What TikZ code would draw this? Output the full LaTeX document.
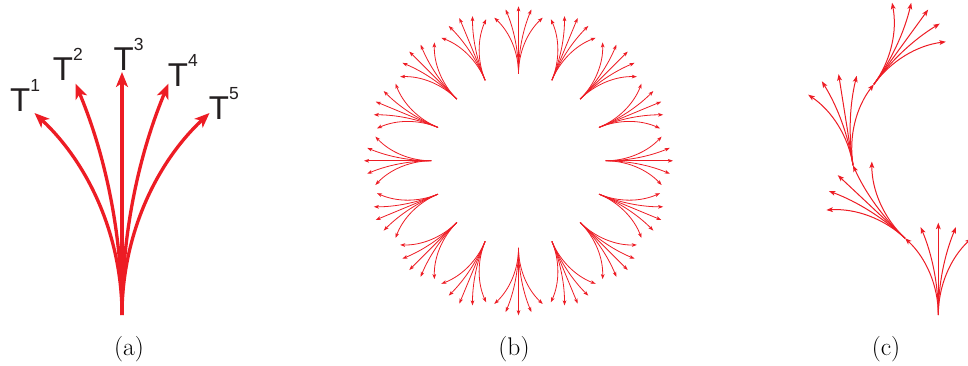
\documentclass[tikz,border=0pt]{standalone}
\usepackage{fontspec}
\newfontfamily\arialfont{Liberation Sans}
\usetikzlibrary{arrows.meta}
\definecolor{mpred}{RGB}{237,28,36}
\definecolor{txtgray}{RGB}{35,31,32}
\newcommand{\supsz}{\fontsize{17.5}{17.5}\selectfont}
% fan of five motion primitives: #1 base coordinate, #2 heading, #3 length (pt), #4 style
\newcommand{\mpfan}[4]{%
  \begin{scope}[shift={(#1)}, rotate={#2-90}]
    \draw[#4] (0,0) arc[start angle=0, end angle=46.85, radius={1.1395*#3pt}] coordinate (#1-1);
    \draw[#4] (0,0) arc[start angle=0, end angle=22.7, radius={2.467*#3pt}] coordinate (#1-2);
    \draw[#4] (0,0) -- (0,#3) coordinate (#1-3);
    \draw[#4] (0,0) arc[start angle=180, end angle=157.3, radius={2.467*#3pt}] coordinate (#1-4);
    \draw[#4] (0,0) arc[start angle=180, end angle=133.15, radius={1.1395*#3pt}] coordinate (#1-5);
  \end{scope}}
\begin{document}
\begin{tikzpicture}[x=1pt, y=1pt,
  afan/.style={draw=mpred, line width=3.3pt, -{Stealth[length=15pt,width=12pt,inset=4pt]}},
  bfan/.style={draw=mpred, line width=0.8pt, -{Stealth[length=5pt,width=3.6pt,inset=1.2pt]}},
  cfan/.style={draw=mpred, line width=1pt, -{Stealth[length=6.5pt,width=4.8pt,inset=1.5pt]}},
  lab/.style={inner sep=0pt, anchor=base west, text=txtgray, font=\arialfont\fontsize{33}{33}\selectfont},
  captxt/.style={inner sep=0pt, anchor=base, font=\fontsize{25.5}{25.5}\selectfont}]
\clip (0,0) rectangle (968,366);
% (a)
\coordinate (a0) at (122,51);
\mpfan{a0}{90}{243}{afan}
\node[lab] (t1) at (10,254.3) {T\raisebox{20pt}{\supsz 1}};
\node[lab] (t2) at (52.7,285) {T\raisebox{20pt}{\supsz 2}};
\node[lab] (t3) at (113.4,295.3) {T\raisebox{20pt}{\supsz 3}};
\node[lab] (t4) at (167.7,279.3) {T\raisebox{20pt}{\supsz 4}};
\node[lab] (t5) at (208.7,246.7) {T\raisebox{20pt}{\supsz 5}};
% (b)
\coordinate (bc) at (518.5,205.2);
\foreach \k in {0,...,15}{%
  \pgfmathsetmacro\ang{90-22.5*\k}
  \coordinate (b\k) at ([shift={(\ang:87.2)}]bc);
  \mpfan{b\k}{\ang}{67.3}{bfan}
}
% (c)
\coordinate (c1) at (938.3,51);
\mpfan{c1}{90}{92.3}{cfan}
\mpfan{c1-1}{136.85}{92.3}{cfan}
\mpfan{c1-1-4}{99}{92.3}{cfan}
\mpfan{c1-1-4-5}{54}{92.3}{cfan}
% captions
\node[captxt] (capa) at (129,10.1) {(a)};
\node[captxt] (capb) at (514,10.1) {(b)};
\node[captxt] (capc) at (886,10.1) {(c)};
\end{tikzpicture}
\end{document}
